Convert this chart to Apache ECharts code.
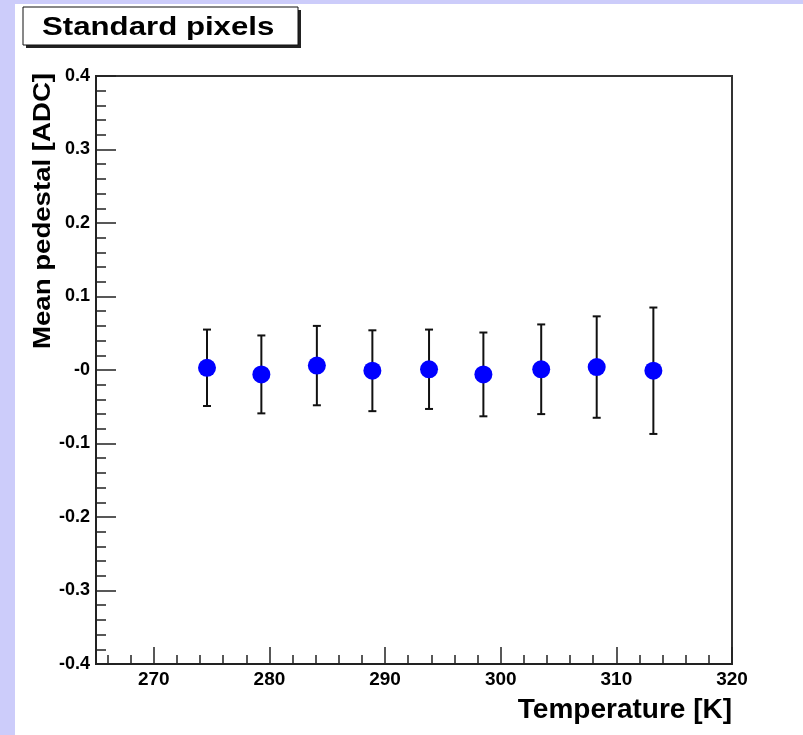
<!DOCTYPE html>
<html><head><meta charset="utf-8">
<script src="https://cdn.jsdelivr.net/npm/echarts@6/dist/echarts.min.js"></script>
<style>html,body{margin:0;padding:0;background:#fff}#c{width:803px;height:735px}</style>
</head><body><div id="c"></div>
<script>
const titleText = 'Standard pixels';
const xTitle = 'Temperature [K]';
const yTitle = 'Mean pedestal [ADC]';
const temperatures = [274.6, 279.3, 284.1, 288.9, 293.8, 298.5, 303.5, 308.3, 313.2];
const meanPedestal = [0.003, -0.006, 0.006, -0.001, 0.001, -0.006, 0.001, 0.004, -0.001];
const pedestalError = [0.052, 0.053, 0.054, 0.055, 0.054, 0.057, 0.061, 0.069, 0.086];
const xMajorTicks = [270, 280, 290, 300, 310, 320];
const xMinorTicks = [266, 268, 272, 274, 276, 278, 282, 284, 286, 288, 292, 294, 296, 298, 302, 304, 306, 308, 312, 314, 316, 318];
const xRange = [265, 320];
const yRange = [-0.4, 0.4];

const FONT = "'Liberation Sans', Arial, Helvetica, sans-serif";
const chart = echarts.init(document.getElementById('c'), null, {renderer: 'canvas'});

const points = temperatures.map((t, i) => [t, meanPedestal[i]]);
const bars = temperatures.map((t, i) => [t, meanPedestal[i] - pedestalError[i], meanPedestal[i] + pedestalError[i]]);

const option = {
  backgroundColor: '#ffffff',
  animation: false,
  grid: {left: 96, top: 76, right: 71, bottom: 71, show: true, borderColor: '#333', borderWidth: 2, backgroundColor: '#fff'},
  xAxis: [{
    type: 'value', min: xRange[0], max: xRange[1], position: 'bottom',
    axisLine: {show: true, onZero: false, lineStyle: {color: '#222', width: 2}},
    axisTick: {show: true, inside: true, length: 17, customValues: xMajorTicks, lineStyle: {color: '#222', width: 1.5}},
    axisLabel: {show: true, customValues: xMajorTicks, margin: 6, color: '#000', fontFamily: FONT, fontWeight: 'bold', fontSize: 19},
    splitLine: {show: false}
  }, {
    type: 'value', min: xRange[0], max: xRange[1], position: 'bottom',
    axisLine: {show: false, onZero: false},
    axisTick: {show: true, inside: true, length: 9, customValues: xMinorTicks, lineStyle: {color: '#222', width: 1.5}},
    axisLabel: {show: false},
    splitLine: {show: false}
  }],
  yAxis: {
    type: 'value', min: yRange[0], max: yRange[1], interval: 0.1,
    axisLine: {show: true, onZero: false, lineStyle: {color: '#222', width: 2}},
    axisTick: {show: true, inside: true, length: 20, lineStyle: {color: '#222', width: 1.5}},
    minorTick: {show: true, splitNumber: 5, length: 10, lineStyle: {color: '#222', width: 1.5}},
    axisLabel: {margin: 6, color: '#000', fontFamily: FONT, fontWeight: 'bold', fontSize: 18,
      formatter: v => (Math.abs(v) < 1e-9 ? '-0' : v.toFixed(1))},
    splitLine: {show: false}
  },
  series: [{
    type: 'custom', xAxisIndex: 0, data: bars, encode: {x: 0, y: [1, 2]}, z: 3,
    renderItem: function (params, api) {
      const x = api.value(0), lo = api.value(1), hi = api.value(2);
      const pLo = api.coord([x, lo]), pHi = api.coord([x, hi]);
      const hw = 4;
      const st = {stroke: '#111', lineWidth: 2};
      return {type: 'group', children: [
        {type: 'line', shape: {x1: pLo[0], y1: pLo[1], x2: pHi[0], y2: pHi[1]}, style: st},
        {type: 'line', shape: {x1: pLo[0] - hw, y1: pLo[1], x2: pLo[0] + hw, y2: pLo[1]}, style: st},
        {type: 'line', shape: {x1: pHi[0] - hw, y1: pHi[1], x2: pHi[0] + hw, y2: pHi[1]}, style: st}
      ]};
    }
  }, {
    type: 'scatter', xAxisIndex: 0, data: points, symbol: 'circle', symbolSize: 18, z: 4,
    itemStyle: {color: '#0000ff', opacity: 1}
  }],
  graphic: [
    {type: 'rect', left: 0, top: 0, z: -10, shape: {width: 15, height: 735}, style: {fill: '#ccccfa'}},
    {type: 'rect', left: 0, top: 0, z: -10, shape: {width: 803, height: 4}, style: {fill: '#ccccfa'}},
    {type: 'rect', x: 26, y: 10, z: 10, shape: {width: 275, height: 38}, style: {fill: '#222'}},
    {type: 'rect', x: 23, y: 7, z: 11, shape: {width: 275, height: 38}, style: {fill: '#fff', stroke: '#111', lineWidth: 1}},
    {type: 'text', x: 42, y: 28, z: 12, scaleX: 1.2,
      style: {text: titleText, font: 'bold 26px ' + FONT, fill: '#000', textAlign: 'left', align: 'left', textVerticalAlign: 'middle', verticalAlign: 'middle'}},
    {type: 'text', x: 732, y: 710, z: 12,
      style: {text: xTitle, font: 'bold 28px ' + FONT, fill: '#000', textAlign: 'right', align: 'right', textVerticalAlign: 'middle', verticalAlign: 'middle'}},
    {type: 'text', x: 43, y: 73, z: 12, rotation: Math.PI / 2, scaleX: 1.15,
      style: {text: yTitle, font: 'bold 24px ' + FONT, fill: '#000', textAlign: 'right', align: 'right', textVerticalAlign: 'middle', verticalAlign: 'middle'}}
  ]
};
chart.setOption(option);
</script>
</body></html>
